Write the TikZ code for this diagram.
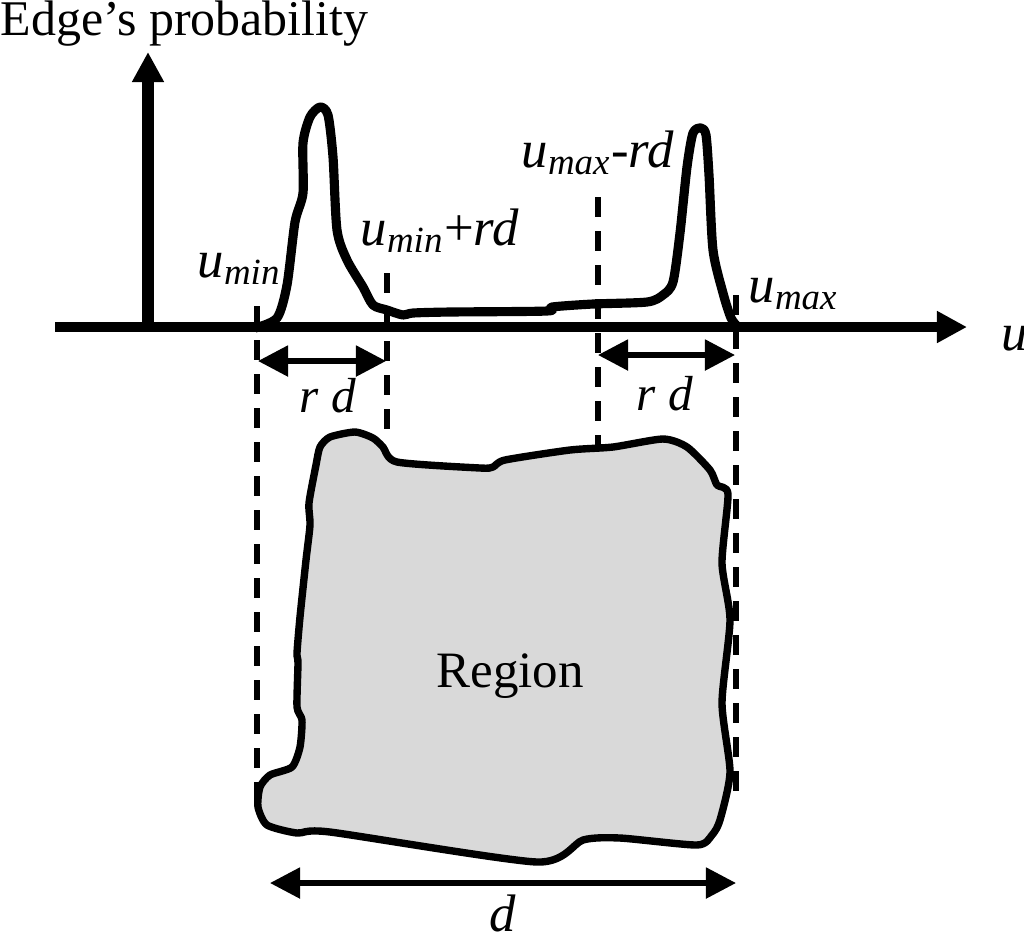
\documentclass[tikz,border=0pt]{standalone}
\usepackage{fontspec}
\setmainfont{Liberation Serif}
\usetikzlibrary{arrows.meta}

\tikzset{
  guide/.style={line width=1.6pt,dash pattern=on 0.2cm off 0.14cm},
  dimarrow/.style={line width=1.5pt,{Triangle[length=0.3cm,width=0.3cm]}-{Triangle[length=0.3cm,width=0.3cm]}},
  lbl/.style={inner sep=0pt,anchor=base west,font=\fontsize{15}{17}\selectfont}
}
\newcommand{\usub}[1]{\textit{u}\textsubscript{\textit{#1}}}

\begin{document}
\begin{tikzpicture}[x=0.01cm,y=-0.01cm]
  \useasboundingbox (0,0) rectangle (1024,941);
  % axes
  \coordinate (xs) at (55,327);  \coordinate (xe) at (967,327);
  \coordinate (ys) at (148,327); \coordinate (ye) at (148,52);
  \draw[line width=2.6pt,-{Triangle[length=0.3cm,width=0.3cm]}] (xs) -- (xe);
  \draw[line width=3.6pt,-{Triangle[length=0.3cm,width=0.3cm]}] (ys) -- (ye);
  \node[inner sep=0pt,anchor=base west,font=\fontsize{14.2}{16}\selectfont] (title) at (0,35) {Edge’s probability};
  \node[lbl] (ulab) at (1001,350) {\textit{u}};
  % probability curve
  \draw[line width=2.6pt,line join=round] plot[smooth,tension=0.45] coordinates {
    (255,328) (277,318) (287,285) (295,222) (303,193) (303,143) (310,117) (320,107)
    (328,115) (333,157) (337,230) (347,260) (363,287) (373,305) (387,310) (403,315)
    (413,313) (450,312) (547,311) (552,307) (593,304) (647,302) (663,295) (673,282)
    (680,233) (687,167) (693,133) (701,128) (706,135) (709,175) (713,250) (723,293)
    (731,318) (738,327)};
  % region
  \draw[line width=2.1pt,fill=black!15,line join=round] plot[smooth cycle,tension=0.4] coordinates {
    (320,447) (330,437) (355,432) (373,438) (383,447) (397,462) (480,468) (493,467)
    (505,460) (570,450) (613,447) (663,439) (687,447) (710,470) (717,485) (728,494)
    (722,563) (730,620) (722,703) (730,772) (720,820) (712,835) (697,845) (620,838)
    (583,840) (537,862) (330,832) (297,833) (267,825) (258,807) (260,787) (270,775)
    (292,767) (300,747) (302,720) (297,707) (298,663) (297,653) (300,617) (306,560)
    (310,525) (309,503) (316,465)};
  \node[inner sep=0pt,anchor=base,font=\fontsize{14.5}{17}\selectfont] (region) at (510,687) {Region};
  % guides
  \coordinate (g1t) at (257,306); \coordinate (g1b) at (257,800);
  \coordinate (g2t) at (387,273); \coordinate (g2b) at (387,432);
  \coordinate (g3t) at (598,197); \coordinate (g3b) at (598,447);
  \coordinate (g4t) at (736,295); \coordinate (g4b) at (736,795);
  \foreach \g in {1,...,4} \draw[guide] (g\g t) -- (g\g b);
  \node[lbl] (umin) at (197,277) {\usub{min}};
  \node[lbl] (uminrd) at (360,245) {\usub{min}+\textit{rd}};
  \node[lbl] (umaxrd) at (521,167) {\usub{max}-\textit{rd}};
  \node[lbl] (umax) at (748,302) {\usub{max}};
  % widths
  \coordinate (a1) at (258,361); \coordinate (b1) at (386,361);
  \coordinate (a2) at (598,355); \coordinate (b2) at (735,355);
  \coordinate (a3) at (270,883); \coordinate (b3) at (736,883);
  \draw[dimarrow] (a1) -- (b1);
  \draw[dimarrow] (a2) -- (b2);
  \draw[dimarrow] (a3) -- (b3);
  \node[lbl,anchor=base,font=\fontsize{14}{16}\selectfont] (rd1) at (328,412) {\textit{r d}};
  \node[lbl,anchor=base,font=\fontsize{14}{16}\selectfont] (rd2) at (665,410) {\textit{r d}};
  \node[lbl,anchor=base] (dlab) at (503,931) {\textit{d}};
\end{tikzpicture}
\end{document}
